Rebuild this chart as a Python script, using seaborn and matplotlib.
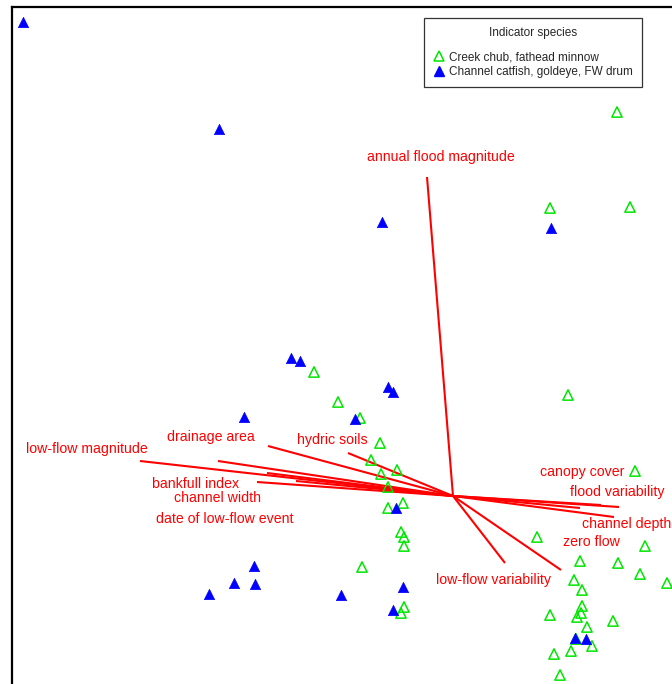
import matplotlib
matplotlib.use("Agg")
import matplotlib.pyplot as plt
from matplotlib.lines import Line2D
import pandas as pd
import seaborn as sns

# Site scores on the first two ordination axes
chub_x = [1.64, 0.97, 1.77, -1.39, -1.15, -0.93, -0.73, 1.15, -0.82, -0.72,
          -0.56, -0.65, -0.65, -0.50, -0.52, -0.49, -0.49, -0.91, -0.49, -0.52,
          1.82, 0.84, 1.92, 1.27, 1.65, 1.21, 1.87, 2.14, 1.29, 1.29,
          1.28, 1.24, 0.97, 1.60, 1.34, 1.23, 1.39, 1.01, 1.18, 1.07]
chub_y = [3.84, 2.88, 2.89, 1.24, 0.94, 0.78, 0.53, 1.01, 0.36, 0.22,
          0.26, 0.09, -0.12, -0.07, -0.36, -0.41, -0.50, -0.71, -1.11, -1.17,
          0.25, -0.41, -0.50, -0.65, -0.67, -0.84, -0.78, -0.87, -0.94, -1.10,
          -1.17, -1.21, -1.19, -1.25, -1.31, -1.43, -1.50, -1.58, -1.55, -1.79]

catfish_x = [-4.30, -2.34, -0.71, 0.98, -1.62, -1.53, -0.65, -0.60, -2.09, -0.98,
             -0.57, -1.99, -2.19, -1.98, -2.44, -1.12, -0.50, -0.60, 1.22, 1.33]
catfish_y = [4.74, 3.67, 2.74, 2.68, 1.38, 1.35, 1.09, 1.04, 0.79, 0.77,
             -0.12, -0.70, -0.87, -0.88, -0.98, -0.99, -0.91, -1.14, -1.42, -1.43]

group_names = ["Creek chub, fathead minnow", "Channel catfish, goldeye, FW drum"]

# Environmental vectors (biplot arrows) and their label anchors
vec_names = ["annual flood magnitude", "low-flow magnitude", "drainage area",
             "hydric soils", "bankfull index", "channel width",
             "date of low-flow event", "", "canopy cover", "flood variability",
             "", "channel depth", "zero flow", "low-flow variability"]
vec_x = [-0.26, -3.13, -1.85, -1.05, -2.35, -1.86, -1.96, -1.57,
         1.27, 1.66, 1.48, 1.61, 1.08, 0.52]
vec_y = [3.19, 0.35, 0.50, 0.43, 0.35, 0.23, 0.14, 0.15,
         -0.12, -0.11, -0.09, -0.21, -0.74, -0.67]
lab_x = [-0.12, -3.66, -2.42, -1.21, -2.57, -2.35, -2.28, 0.0,
         1.29, 1.64, 0.0, 1.74, 1.38, 0.41]
lab_y = [3.39, 0.47, 0.59, 0.56, 0.12, -0.02, -0.23, 0.0,
         0.24, 0.04, 0.0, -0.28, -0.46, -0.84]

sites = pd.concat([
    pd.DataFrame({"ax1": chub_x, "ax2": chub_y, "group": group_names[0]}),
    pd.DataFrame({"ax1": catfish_x, "ax2": catfish_y, "group": group_names[1]}),
], ignore_index=True)

sns.set_theme(style="white")
plt.rcParams["font.family"] = ["Liberation Sans", "DejaVu Sans"]

GREEN = "#00e600"
BLUE = "#0000ff"
RED = "#ff0000"

fig = plt.figure(figsize=(6.72, 6.84), dpi=100)
ax = fig.add_axes([12 / 672, 0, 660 / 672, 677 / 684])

# Vectors first so site markers sit on top
for vx, vy in zip(vec_x, vec_y):
    ax.plot([0, vx], [0, vy], color=RED, lw=1.5, solid_capstyle="butt", zorder=2)
for name, tx, ty in zip(vec_names, lab_x, lab_y):
    if name:
        ax.text(tx, ty, name, color=RED, fontsize=10.2, ha="center", va="center", zorder=3)

chub = sites[sites["group"] == group_names[0]]
cat = sites[sites["group"] == group_names[1]]

sns.scatterplot(data=chub, x="ax1", y="ax2", marker="^", s=55, ax=ax,
                color=GREEN, linewidth=1.1, legend=False, zorder=4)
ax.collections[-1].set_facecolor("none")
ax.collections[-1].set_edgecolor(GREEN)

sns.scatterplot(data=cat, x="ax1", y="ax2", marker="^", s=55, ax=ax,
                color=BLUE, edgecolor=BLUE, linewidth=0.5, legend=False, zorder=5)

ax.set_xlim(-4.41, 2.19)
ax.set_ylim(-1.88, 4.89)
ax.set_xlabel("")
ax.set_ylabel("")
ax.set_xticks([])
ax.set_yticks([])
for side in ["right", "bottom"]:
    ax.spines[side].set_visible(False)
for side in ["left", "top"]:
    ax.spines[side].set_color("black")
    ax.spines[side].set_linewidth(1.6)

handles = [
    Line2D([], [], marker="^", linestyle="none", markersize=7.5,
           markerfacecolor="none", markeredgecolor=GREEN, markeredgewidth=1.1),
    Line2D([], [], marker="^", linestyle="none", markersize=7.5,
           markerfacecolor=BLUE, markeredgecolor=BLUE),
]
leg = ax.legend(handles, group_names, title="Indicator species", loc="upper right",
                bbox_to_anchor=(0.9545, 0.984), borderaxespad=0, fontsize=8.5,
                title_fontsize=8.5, frameon=True, fancybox=False, shadow=False,
                handletextpad=0.3, handlelength=1.1, labelspacing=0.25,
                borderpad=0.75)
# extra room between the title and the entries
leg._legend_box.sep = 9
leg.get_frame().set_edgecolor("black")
leg.get_frame().set_linewidth(0.9)

fig.savefig("out.png", dpi=100, facecolor="white")
